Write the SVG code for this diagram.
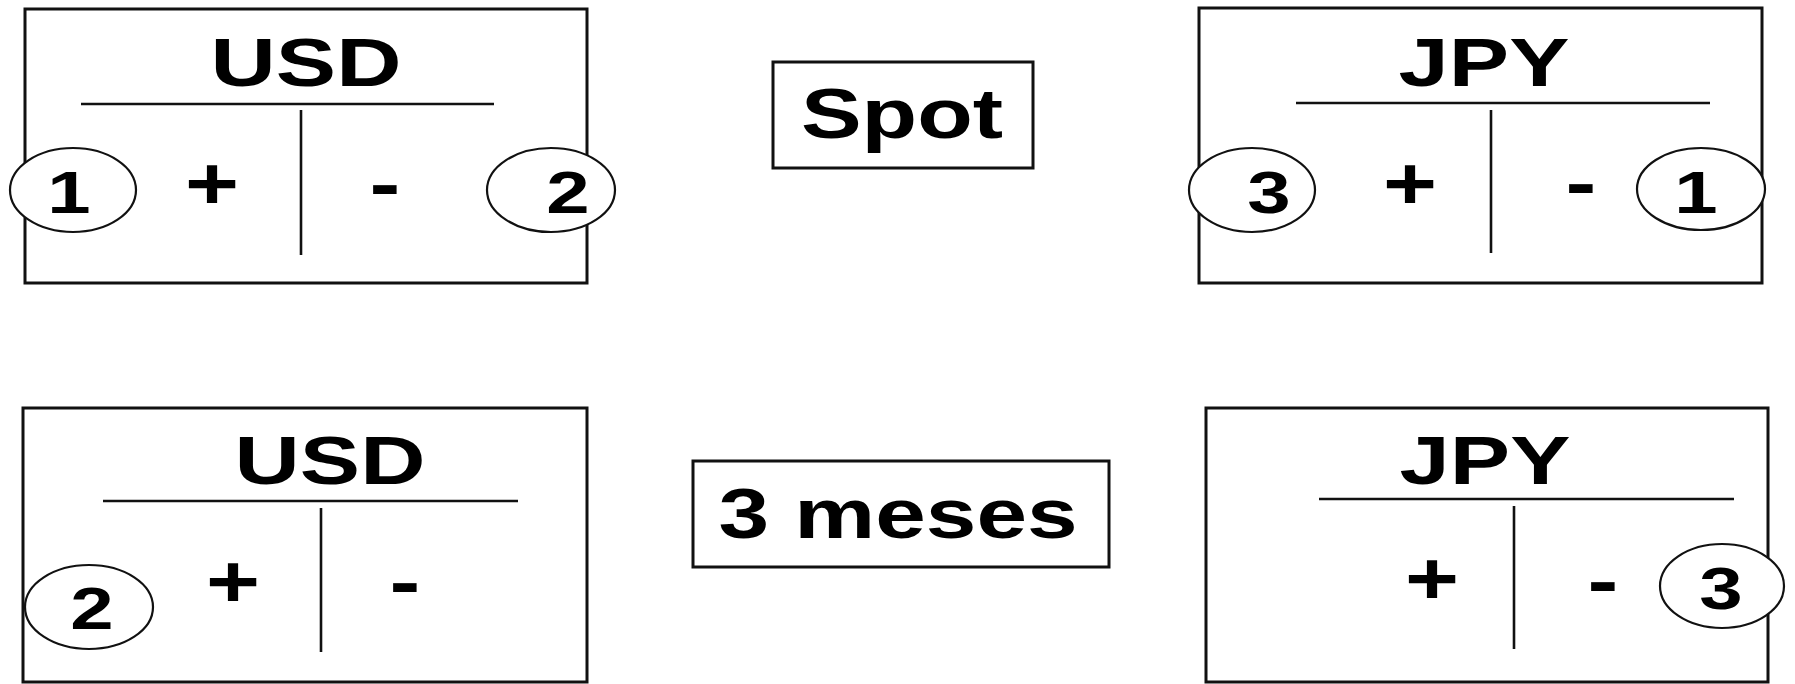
<svg xmlns="http://www.w3.org/2000/svg" width="1795" height="684" viewBox="0 0 1795 684">
<style>
.bg{fill:#ffffff}
.box{fill:none;stroke:#111;stroke-width:3}
.ln{stroke:#111;stroke-width:2.6;fill:none}
.ov{fill:#ffffff;stroke:#111;stroke-width:2.2}
.t{font-family:"Liberation Sans",Arial,sans-serif;font-weight:bold;fill:#000;text-anchor:middle}
.title{font-size:69px}
.lab{font-size:70px}
.num{font-size:60px}
.sgn{font-size:74px}
</style>
<rect class="bg" x="0" y="0" width="1795" height="684"/>

<g id="usd-spot">
  <rect class="box" x="25" y="9" width="562" height="274"/>
  <text class="t title" transform="translate(306,86) scale(1.31,1)">USD</text>
  <line class="ln" x1="81" y1="104" x2="494" y2="104"/>
  <line class="ln" x1="301" y1="110" x2="301" y2="255"/>
  <text class="t sgn" transform="translate(212,209) scale(1.25,1)">+</text>
  <text class="t sgn" transform="translate(385,209) scale(1.25,1)">-</text>
  <ellipse class="ov" cx="73" cy="190" rx="63" ry="42"/>
  <text class="t num" transform="translate(69,213) scale(1.3,1)">1</text>
  <ellipse class="ov" cx="551" cy="190" rx="64" ry="42"/>
  <text class="t num" transform="translate(568,213) scale(1.3,1)">2</text>
</g>

<g id="spot">
  <rect class="box" x="773" y="62" width="260" height="106"/>
  <text class="t lab" transform="translate(902,138) scale(1.3,1)">Spot</text>
</g>

<g id="jpy-spot">
  <rect class="box" x="1199" y="8" width="563" height="275"/>
  <text class="t title" transform="translate(1484,86) scale(1.31,1)">JPY</text>
  <line class="ln" x1="1296" y1="103" x2="1710" y2="103"/>
  <line class="ln" x1="1491" y1="110" x2="1491" y2="253"/>
  <text class="t sgn" transform="translate(1410,209) scale(1.25,1)">+</text>
  <text class="t sgn" transform="translate(1581,208) scale(1.25,1)">-</text>
  <ellipse class="ov" cx="1252" cy="190" rx="63" ry="42"/>
  <text class="t num" transform="translate(1269,213) scale(1.3,1)">3</text>
  <ellipse class="ov" cx="1701" cy="189" rx="64" ry="41"/>
  <text class="t num" transform="translate(1696,213) scale(1.3,1)">1</text>
</g>

<g id="usd-3m">
  <rect class="box" x="23" y="408" width="564" height="274"/>
  <text class="t title" transform="translate(330,484) scale(1.31,1)">USD</text>
  <line class="ln" x1="103" y1="501" x2="518" y2="501"/>
  <line class="ln" x1="321" y1="508" x2="321" y2="652"/>
  <text class="t sgn" transform="translate(233,607) scale(1.25,1)">+</text>
  <text class="t sgn" transform="translate(405,607) scale(1.25,1)">-</text>
  <ellipse class="ov" cx="89" cy="607" rx="64" ry="42"/>
  <text class="t num" transform="translate(92,629) scale(1.3,1)">2</text>
</g>

<g id="tres-meses">
  <rect class="box" x="693" y="461" width="416" height="106"/>
  <text class="t lab" transform="translate(898,538) scale(1.3,1)">3 meses</text>
</g>

<g id="jpy-3m">
  <rect class="box" x="1206" y="408" width="562" height="274"/>
  <text class="t title" transform="translate(1485,484) scale(1.31,1)">JPY</text>
  <line class="ln" x1="1319" y1="499" x2="1734" y2="499"/>
  <line class="ln" x1="1514" y1="506" x2="1514" y2="649"/>
  <text class="t sgn" transform="translate(1432,604) scale(1.25,1)">+</text>
  <text class="t sgn" transform="translate(1603,606) scale(1.25,1)">-</text>
  <ellipse class="ov" cx="1722" cy="586" rx="62" ry="42"/>
  <text class="t num" transform="translate(1721,609) scale(1.3,1)">3</text>
</g>

<g id="connectors"></g>
</svg>
